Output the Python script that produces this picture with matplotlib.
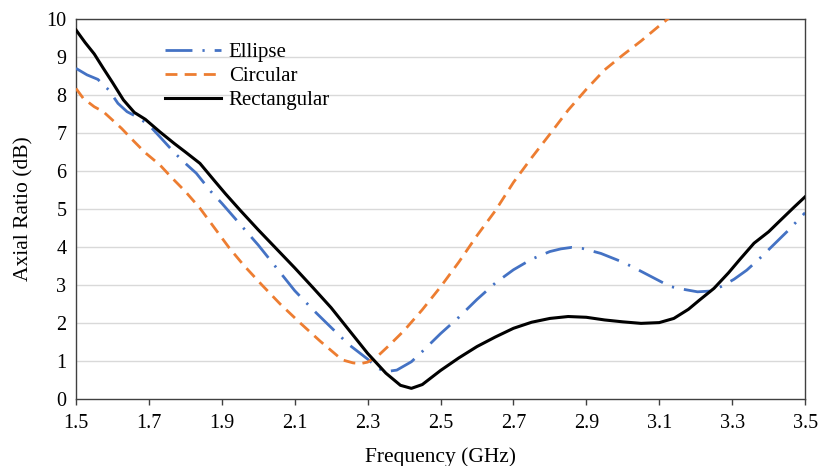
import matplotlib
matplotlib.use("Agg")
import matplotlib.pyplot as plt

plt.rcParams['font.family'] = ['Liberation Serif', 'DejaVu Serif']

# Rectangular (black, solid)
rect_f = [1.50, 1.525, 1.55, 1.575, 1.60, 1.63, 1.66, 1.69, 1.73, 1.77, 1.80,
          1.84, 1.88, 1.91, 1.95, 2.00, 2.05, 2.10, 2.15, 2.20, 2.25, 2.30,
          2.35, 2.39, 2.42, 2.45, 2.50, 2.55, 2.60, 2.65, 2.70, 2.75, 2.80,
          2.85, 2.90, 2.95, 3.00, 3.05, 3.10, 3.14, 3.18, 3.21, 3.25, 3.29,
          3.32, 3.36, 3.40, 3.43, 3.47, 3.50]
rect_ar = [9.71, 9.38, 9.08, 8.70, 8.33, 7.87, 7.54, 7.36, 7.03, 6.72, 6.50,
           6.20, 5.74, 5.40, 4.97, 4.45, 3.95, 3.45, 2.93, 2.40, 1.80, 1.20,
           0.68, 0.36, 0.28, 0.38, 0.75, 1.08, 1.38, 1.63, 1.86, 2.02, 2.12,
           2.17, 2.15, 2.08, 2.03, 1.99, 2.01, 2.12, 2.36, 2.60, 2.91, 3.32,
           3.66, 4.10, 4.40, 4.68, 5.05, 5.32]

# Ellipse (blue, dash-dot)
ell_f = [1.50, 1.53, 1.56, 1.59, 1.615, 1.64, 1.67, 1.70, 1.73, 1.77, 1.80,
         1.83, 1.87, 1.90, 1.95, 2.00, 2.05, 2.10, 2.15, 2.20, 2.25, 2.30,
         2.33, 2.35, 2.38, 2.42, 2.45, 2.50, 2.55, 2.60, 2.65, 2.70, 2.75,
         2.80, 2.83, 2.86, 2.89, 2.94, 3.00, 3.03, 3.07, 3.13, 3.17, 3.205,
         3.24, 3.27, 3.305, 3.34, 3.38, 3.415, 3.45, 3.50]
ell_ar = [8.70, 8.53, 8.41, 8.13, 7.78, 7.56, 7.41, 7.21, 6.90, 6.48, 6.20,
          5.94, 5.46, 5.15, 4.60, 4.05, 3.45, 2.85, 2.35, 1.88, 1.42, 1.05,
          0.80, 0.72, 0.76, 0.98, 1.25, 1.72, 2.15, 2.62, 3.05, 3.40, 3.68,
          3.88, 3.95, 3.99, 3.96, 3.83, 3.60, 3.46, 3.26, 2.96, 2.88, 2.82,
          2.84, 2.96, 3.15, 3.39, 3.74, 4.07, 4.40, 4.90]

# Circular (orange, dashed)
circ_f = [1.50, 1.52, 1.55, 1.575, 1.60, 1.625, 1.66, 1.69, 1.73, 1.76, 1.80,
          1.84, 1.88, 1.92, 1.96, 2.01, 2.06, 2.115, 2.17, 2.23, 2.26, 2.28,
          2.30, 2.33, 2.36, 2.40, 2.45, 2.50, 2.55, 2.60, 2.65, 2.70, 2.75,
          2.80, 2.85, 2.90, 2.95, 3.00, 3.05, 3.10, 3.13]
circ_ar = [8.17, 7.91, 7.69, 7.56, 7.34, 7.12, 6.77, 6.48, 6.16, 5.85, 5.46,
           5.02, 4.50, 3.98, 3.52, 3.00, 2.50, 2.00, 1.52, 1.03, 0.95, 0.93,
           0.97, 1.15, 1.42, 1.80, 2.35, 2.95, 3.60, 4.30, 4.95, 5.70, 6.35,
           6.97, 7.60, 8.15, 8.66, 9.05, 9.42, 9.82, 10.05]

xticks = [1.5, 1.7, 1.9, 2.1, 2.3, 2.5, 2.7, 2.9, 3.1, 3.3, 3.5]
yticks = list(range(0, 11))

fig = plt.figure(figsize=(8.19, 4.66), dpi=100)
ax = fig.add_axes([0.0928, 0.1438, 0.8902, 0.8155])

for y in yticks[1:]:
    ax.axhline(y, color='#d9d9d9', lw=1.0, zorder=0)

ax.plot(ell_f, ell_ar, color='#4472C4', lw=2.0, dashes=(9.7, 3.6, 0.8, 3.6),
        label='Ellipse', zorder=3)
ax.plot(circ_f, circ_ar, color='#ED7D31', lw=2.0, dashes=(4.3, 2.6),
        label='Circular', zorder=3)
ax.plot(rect_f, rect_ar, color='black', lw=2.2, label='Rectangular', zorder=4)

ax.set_xlim(1.5, 3.5)
ax.set_ylim(0, 10)
ax.set_xticks(xticks)
ax.set_xticklabels([f"{t:.1f}" for t in xticks])
ax.set_yticks(yticks)
ax.tick_params(axis='x', direction='out', length=4, width=1, color='#404040',
               labelsize=14.5, pad=7)
ax.tick_params(axis='y', length=0, labelsize=14.5, pad=7)

for s in ax.spines.values():
    s.set_color('#404040')
    s.set_linewidth(1.0)

ax.set_xlabel('Frequency (GHz)', fontsize=15.5, labelpad=10)
ax.set_ylabel('Axial Ratio (dB)', fontsize=15.5, labelpad=9)

ax.legend(loc='upper left', bbox_to_anchor=(0.11, 0.96), frameon=False,
          fontsize=15, handlelength=2.7, handletextpad=0.38, labelspacing=0.22,
          borderaxespad=0)

fig.savefig('out.png', dpi=100)
